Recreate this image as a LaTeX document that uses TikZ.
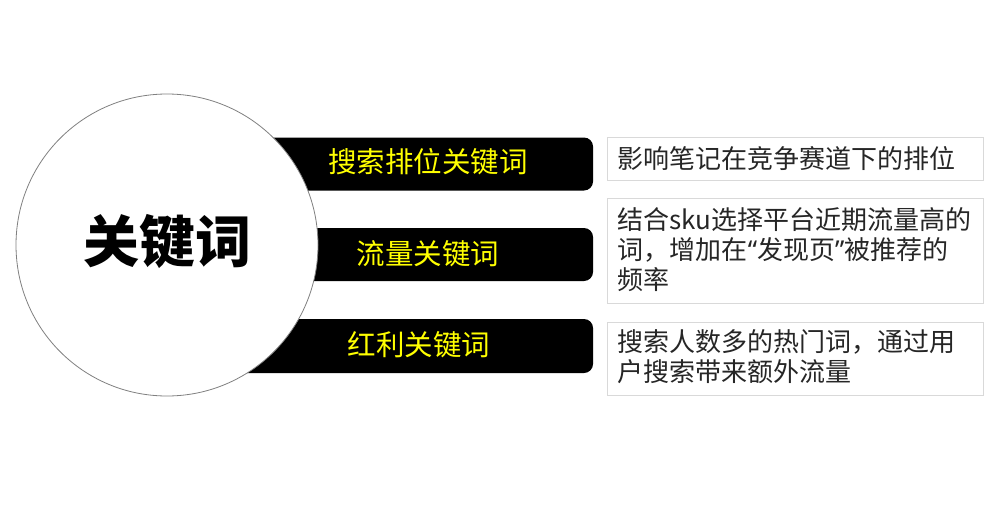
\documentclass[tikz,border=0pt]{standalone}
\usepackage{fontspec}
\setmainfont{Noto Sans CJK SC}
\newfontfamily\latinfont{Noto Sans}
\usetikzlibrary{positioning}
\definecolor{bartxt}{HTML}{FFFF00}
\definecolor{boxline}{HTML}{D9D9D9}
\definecolor{boxtxt}{HTML}{262626}
\definecolor{ringline}{HTML}{808080}
\tikzset{
  barbox/.style={fill=black, draw=none, rounded corners=9pt, minimum width=363pt, inner sep=0pt},
  bartext/.style={text=bartxt, font=\fontsize{28.5}{30}\selectfont, inner sep=0pt},
  descbox/.style={draw=boxline, line width=0.8pt, fill=white, minimum width=376pt, inner sep=0pt},
  desctext/.style={text=boxtxt, font=\fontsize{26}{30}\selectfont, align=left, anchor=west, inner sep=0pt},
  hub/.style={circle, draw=ringline, line width=0.8pt, fill=white, minimum size=302pt, inner sep=0pt},
}
\begin{document}
\begin{tikzpicture}[x=1pt,y=-1pt]
\useasboundingbox[fill=white] (0,0) rectangle (1004,519);
% bars
\node[barbox, minimum height=53pt] (bar1) at (411.5,164) {};
\node[barbox, minimum height=53pt] (bar2) at (411.5,254.5) {};
\node[barbox, minimum height=54pt] (bar3) at (411.5,346) {};
% hub circle
\node[hub] (hub) at (167,245) {};
\node[font=\fontsize{56}{60}\selectfont\bfseries, inner sep=0pt] (hubtext) at (167,241) {关键词};
% bar texts
\node[bartext] (t1) at (428,162) {搜索排位关键词};
\node[bartext] (t2) at (428,254) {流量关键词};
\node[bartext] (t3) at (419,345) {红利关键词};
% description boxes
\node[descbox, minimum height=43pt] (d1) at (795,158.5) {};
\node[descbox, minimum height=105pt] (d2) at (795,250.5) {};
\node[descbox, minimum height=73pt] (d3) at (795,358.5) {};
\node[desctext] (dt1) at ([xshift=11pt]d1.west) {影响笔记在竞争赛道下的排位};
\node[desctext] (dt2) at ([xshift=11pt,yshift=1pt]d2.west) {结合sku选择平台近期流量高的\\词，增加在{\latinfont “}发现页{\latinfont ”}被推荐的\\频率};
\node[desctext] (dt3) at ([xshift=11pt,yshift=2pt]d3.west) {搜索人数多的热门词，通过用\\户搜索带来额外流量};
\end{tikzpicture}
\end{document}
